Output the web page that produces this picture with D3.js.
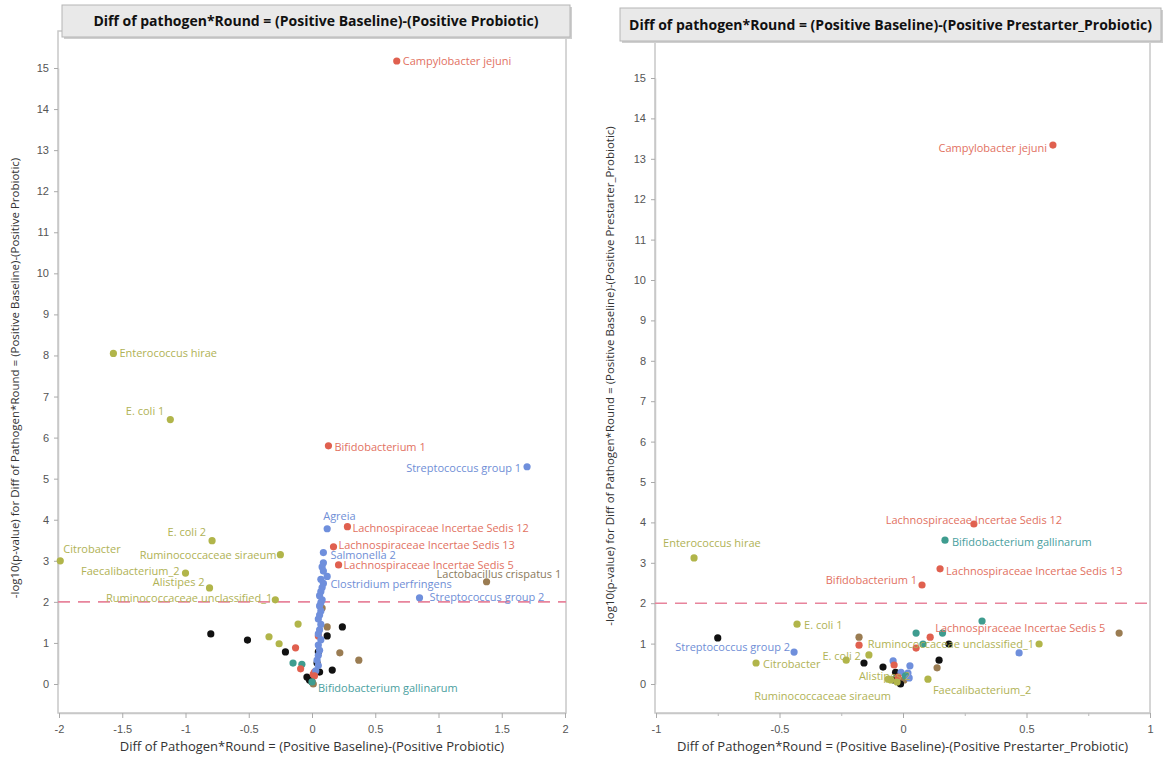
<!DOCTYPE html>
<html><head><meta charset="utf-8">
<script src="https://cdn.jsdelivr.net/npm/d3@7"></script>
<style>
body{margin:0;background:#fff;}
svg{display:block;font-family:"Open Sans","Noto Sans",sans-serif;}
</style></head>
<body><svg id="c" width="1165" height="760"></svg>
<script>
// ---------- DATA ----------
const leftTitle = "Diff of pathogen*Round  = (Positive Baseline)-(Positive Probiotic)";
const rightTitle = "Diff of pathogen*Round  = (Positive Baseline)-(Positive Prestarter_Probiotic)";
const leftXTitle = "Diff of Pathogen*Round  = (Positive Baseline)-(Positive Probiotic)";
const rightXTitle = "Diff of Pathogen*Round  = (Positive Baseline)-(Positive Prestarter_Probiotic)";
const leftYTitle = "-log10(p-value) for Diff of Pathogen*Round = (Positive Baseline)-(Positive  Probiotic)";
const rightYTitle = "-log10(p-value) for Diff of Pathogen*Round = (Positive Baseline)-(Positive Prestarter_Probiotic)";
const leftXTicks = [-2,-1.5,-1,-0.5,0,0.5,1,1.5,2];
const rightXTicks = [-1,-0.5,0,0.5,1];
const rightXMinor = [-0.75,-0.25,0.25,0.75];
const yTicks = [0,1,2,3,4,5,6,7,8,9,10,11,12,13,14,15];
const threshold = 2;

// labelled points: [name, x, y, group]
const leftLabeled = [
  ["Campylobacter jejuni", 0.67, 15.17, "red"],
  ["Enterococcus hirae", -1.57, 8.05, "olive"],
  ["E. coli 1", -1.12, 6.44, "olive"],
  ["Bifidobacterium 1", 0.13, 5.8, "red"],
  ["Streptococcus group 1", 1.70, 5.29, "blue"],
  ["Agreia", 0.12, 3.78, "blue"],
  ["Lachnospiraceae Incertae Sedis 12", 0.28, 3.83, "red"],
  ["Lachnospiraceae Incertae Sedis 13", 0.17, 3.34, "red"],
  ["Salmonella 2", 0.09, 3.2, "blue"],
  ["Lachnospiraceae Incertae Sedis 5", 0.21, 2.9, "red"],
  ["Lactobacillus crispatus 1", 1.38, 2.49, "brown"],
  ["Clostridium perfringens", 0.09, 2.45, "blue"],
  ["Streptococcus group 2", 0.85, 2.1, "blue"],
  ["E. coli 2", -0.79, 3.49, "olive"],
  ["Citrobacter", -1.99, 3.0, "olive"],
  ["Ruminococcaceae siraeum", -0.25, 3.15, "olive"],
  ["Faecalibacterium_2", -1.0, 2.7, "olive"],
  ["Alistipes 2", -0.81, 2.34, "olive"],
  ["Ruminococcaceae unclassified_1", -0.29, 2.05, "olive"],
  ["Bifidobacterium  gallinarum", 0.0, 0.05, "teal"]
];
// unlabelled points: [x, y, group]
const leftOther = [
  [-0.80,1.22,"black"],[-0.51,1.07,"black"],[-0.34,1.15,"olive"],[-0.26,0.98,"olive"],
  [-0.21,0.78,"black"],[-0.11,1.46,"olive"],[-0.13,0.88,"red"],[-0.15,0.51,"teal"],
  [-0.08,0.48,"teal"],[-0.09,0.37,"red"],[0.24,1.39,"black"],[0.12,1.17,"black"],
  [0.12,1.39,"brown"],[0.22,0.76,"brown"],[0.37,0.58,"brown"],[0.16,0.34,"black"],
  [0.06,0.29,"black"],[0.05,0.78,"black"],[0.04,0.51,"black"],[-0.04,0.17,"black"],
  [-0.02,0.10,"black"],[0.0,0.05,"black"],[0.02,0.29,"red"],[0.01,0.24,"red"],
  [0.01,0.0,"brown"],[0.05,1.17,"red"],[0.08,1.85,"brown"],
  [0.09,2.95,"blue"],[0.08,2.85,"blue"],[0.09,2.75,"blue"],[0.12,2.62,"blue"],[0.07,2.55,"blue"],
  [0.08,2.35,"blue"],[0.07,2.25,"blue"],[0.06,2.15,"blue"],[0.08,2.05,"blue"],[0.07,1.98,"blue"],
  [0.06,1.9,"blue"],[0.07,1.78,"blue"],[0.06,1.68,"blue"],[0.05,1.58,"blue"],[0.07,1.45,"blue"],
  [0.06,1.32,"blue"],[0.05,1.22,"blue"],[0.07,1.08,"blue"],[0.05,0.95,"blue"],[0.06,0.82,"blue"],
  [0.05,0.7,"blue"],[0.04,0.58,"blue"],[0.05,0.45,"blue"],[0.03,0.32,"blue"],[0.02,0.2,"red"]
];

const rightLabeled = [
  ["Campylobacter jejuni", 0.607, 13.34, "red"],
  ["Lachnospiraceae Incertae Sedis 12", 0.287, 3.96, "red"],
  ["Bifidobacterium  gallinarum", 0.170, 3.56, "teal"],
  ["Lachnospiraceae Incertae Sedis 13", 0.150, 2.85, "red"],
  ["Bifidobacterium 1", 0.077, 2.45, "red"],
  ["Enterococcus hirae", -0.846, 3.12, "olive"],
  ["Lachnospiraceae Incertae Sedis 5", 0.110, 1.16, "red"],
  ["Ruminococcaceae unclassified_1", 0.551, 0.99, "olive"],
  ["Faecalibacterium_2", 0.101, 0.12, "olive"],
  ["Streptococcus group 2", -0.441, 0.79, "blue"],
  ["E. coli 1", -0.429, 1.48, "olive"],
  ["Citrobacter", -0.595, 0.52, "olive"],
  ["E. coli 2", -0.138, 0.72, "olive"],
  ["Alistipes 2", -0.049, 0.10, "olive"],
  ["Ruminococcaceae siraeum", -0.024, 0.05, "olive"]
];
const rightOther = [
  [-0.75,1.14,"black"],[-0.178,1.16,"brown"],[-0.178,0.96,"red"],[-0.23,0.59,"olive"],
  [-0.158,0.52,"black"],[-0.081,0.42,"black"],[-0.04,0.57,"blue"],[-0.036,0.47,"red"],
  [0.028,0.45,"blue"],[0.053,1.26,"teal"],[0.16,1.26,"teal"],[0.32,1.56,"teal"],
  [0.081,0.99,"teal"],[0.053,0.89,"red"],[0.186,0.99,"black"],[0.146,0.59,"black"],
  [0.138,0.40,"brown"],[0.47,0.77,"blue"],[0.875,1.26,"brown"],
  [-0.03,0.29,"black"],[-0.036,0.10,"black"],[-0.016,0.05,"black"],[-0.008,0.29,"blue"],
  [0.02,0.27,"blue"],[0.004,0.10,"brown"],[-0.02,0.17,"red"],[-0.06,0.12,"olive"],
  [-0.01,0.0,"black"],[0.01,0.2,"teal"],[0.025,0.15,"blue"]
];

// ---------- STYLE ----------
const pointColor = {red:"#e0604f", olive:"#b1b54a", blue:"#6f8fdc", teal:"#3e9c8f", brown:"#9a7c52", black:"#111111"};
const labelColor = {red:"#e2715f", olive:"#b0b255", blue:"#6f8ed6", teal:"#4aa0a0", brown:"#8a7a5c"};

// label placement: [anchor, dx, dy]
const leftPlace = {
  "Campylobacter jejuni":["start",6,4],
  "Enterococcus hirae":["start",6,4],
  "E. coli 1":["end",-6,-5],
  "Bifidobacterium 1":["start",6,5],
  "Streptococcus group 1":["end",-6,5],
  "Agreia":["start",-4,-9],
  "Lachnospiraceae Incertae Sedis 12":["start",5,5],
  "Lachnospiraceae Incertae Sedis 13":["start",5,2],
  "Salmonella 2":["start",7,6],
  "Lachnospiraceae Incertae Sedis 5":["start",5,4],
  "Lactobacillus crispatus 1":["start",-50,-4],
  "Clostridium perfringens":["start",7,5],
  "Streptococcus group 2":["start",10,3],
  "E. coli 2":["end",-6,-5],
  "Citrobacter":["start",3,-8],
  "Ruminococcaceae siraeum":["end",-4,4],
  "Faecalibacterium_2":["end",-6,2],
  "Alistipes 2":["end",-5,-2],
  "Ruminococcaceae unclassified_1":["end",-3,2],
  "Bifidobacterium  gallinarum":["start",6,10]
};
const rightPlace = {
  "Campylobacter jejuni":["end",-6,7],
  "Lachnospiraceae Incertae Sedis 12":["middle",0,0],
  "Bifidobacterium  gallinarum":["start",7,6],
  "Lachnospiraceae Incertae Sedis 13":["start",6,6],
  "Bifidobacterium 1":["end",-5,-1],
  "Enterococcus hirae":["start",-31,-11],
  "Lachnospiraceae Incertae Sedis 5":["start",5,-5],
  "Ruminococcaceae unclassified_1":["end",-5,4],
  "Faecalibacterium_2":["start",5,15],
  "Streptococcus group 2":["end",-4,-1],
  "E. coli 1":["start",7,5],
  "Citrobacter":["start",7,5],
  "E. coli 2":["end",-8,5],
  "Alistipes 2":["start",-32,0],
  "Ruminococcaceae siraeum":["end",-6,18]
};

// ---------- DRAW ----------
const svg = d3.select("#c");

function panel(cfg){
  const g = svg.append("g");
  const x = d3.scaleLinear().domain(cfg.xDomain).range(cfg.xRange);
  const y = d3.scaleLinear().domain([0,15]).range(cfg.yRange);
  const [L,R] = [cfg.frame[0], cfg.frame[2]];
  const [T,B] = [cfg.frame[1], cfg.frame[3]];

  // frame
  g.append("rect").attr("x",L).attr("y",T).attr("width",R-L).attr("height",B-T)
    .attr("fill","none").attr("stroke","#c8c8c8").attr("stroke-width",1.5);

  // axes
  const xa = g.append("g").attr("transform",`translate(0,${B})`)
    .call(d3.axisBottom(x).tickValues(cfg.xTicks).tickFormat(d=>String(d)).tickSize(5).tickSizeOuter(0));
  if (cfg.xMinor) {
    g.append("g").attr("transform",`translate(0,${B})`)
      .call(d3.axisBottom(x).tickValues(cfg.xMinor).tickFormat("").tickSize(3).tickSizeOuter(0))
      .call(s=>{s.select(".domain").remove(); s.selectAll("line").attr("stroke","#bbb");});
  }
  const ya = g.append("g").attr("transform",`translate(${L},0)`)
    .call(d3.axisLeft(y).tickValues(yTicks).tickFormat(d=>String(d)).tickSize(4).tickSizeOuter(0));
  [xa,ya].forEach(a=>{
    a.select(".domain").attr("stroke","#c8c8c8").attr("stroke-width",1.5);
    a.selectAll(".tick line").attr("stroke","#aaa");
    a.selectAll(".tick text").attr("fill","#555").style("font-size","11px");
  });
  xa.selectAll(".tick text").attr("dy","1.1em");
  ya.selectAll(".tick text").attr("dx","-2");

  // threshold line
  g.append("line").attr("x1",L).attr("x2",R).attr("y1",y(threshold)).attr("y2",y(threshold))
    .attr("stroke","#e8849c").attr("stroke-width",1.6).attr("stroke-dasharray","12,8");

  // unlabelled points
  g.selectAll("circle.o").data(cfg.other).join("circle").attr("class","o")
    .attr("cx",d=>x(d[0])).attr("cy",d=>y(d[1])).attr("r",3.6)
    .attr("fill",d=>pointColor[d[2]]);
  // labelled points
  g.selectAll("circle.l").data(cfg.labeled).join("circle").attr("class","l")
    .attr("cx",d=>x(d[1])).attr("cy",d=>y(d[2])).attr("r",3.6)
    .attr("fill",d=>pointColor[d[3]]);
  g.selectAll("text.lab").data(cfg.labeled).join("text").attr("class","lab")
    .attr("x",d=>x(d[1]) + cfg.place[d[0]][1])
    .attr("y",d=>y(d[2]) + cfg.place[d[0]][2])
    .attr("text-anchor",d=>cfg.place[d[0]][0])
    .attr("fill",d=>labelColor[d[3]])
    .style("font-size","11px")
    .text(d=>d[0]);

  // axis titles
  g.append("text").attr("x",(L+R)/2).attr("y",751).attr("text-anchor","middle")
    .attr("fill","#333").style("font-size","13px").text(cfg.xTitle);
  g.append("text").attr("transform",`translate(${cfg.yTitleX},${cfg.yTitleY}) rotate(-90)`)
    .attr("text-anchor","middle").attr("fill","#333").style("font-size","11.5px").text(cfg.yTitle);

  // title box
  const tb = cfg.titleBox;
  g.append("rect").attr("x",tb[0]+2).attr("y",tb[1]+2).attr("width",tb[2]-tb[0]).attr("height",tb[3]-tb[1])
    .attr("fill","#cfcfcf");
  g.append("rect").attr("x",tb[0]).attr("y",tb[1]).attr("width",tb[2]-tb[0]).attr("height",tb[3]-tb[1])
    .attr("fill","#e9e9e9").attr("stroke","#b5b5b5").attr("stroke-width",1);
  g.append("text").attr("x",(tb[0]+tb[2])/2).attr("y",(tb[1]+tb[3])/2+5).attr("text-anchor","middle")
    .attr("fill","#111").style("font-size","14px").style("font-weight","bold").text(cfg.title);
}

panel({
  xDomain:[-2,2], xRange:[59,565], yRange:[684,68],
  frame:[58,31,566,713],
  xTicks:leftXTicks, other:leftOther, labeled:leftLabeled, place:leftPlace,
  xTitle:leftXTitle, yTitle:leftYTitle, yTitleX:19, yTitleY:378,
  titleBox:[62,5,570,37], title:leftTitle
});
panel({
  xDomain:[-1,1], xRange:[656,1150], yRange:[684,78],
  frame:[655,40,1150,713],
  xTicks:rightXTicks, xMinor:rightXMinor, other:rightOther, labeled:rightLabeled, place:rightPlace,
  xTitle:rightXTitle, yTitle:rightYTitle, yTitleX:614, yTitleY:376,
  titleBox:[620,8,1161,41], title:rightTitle
});
</script></body></html>
